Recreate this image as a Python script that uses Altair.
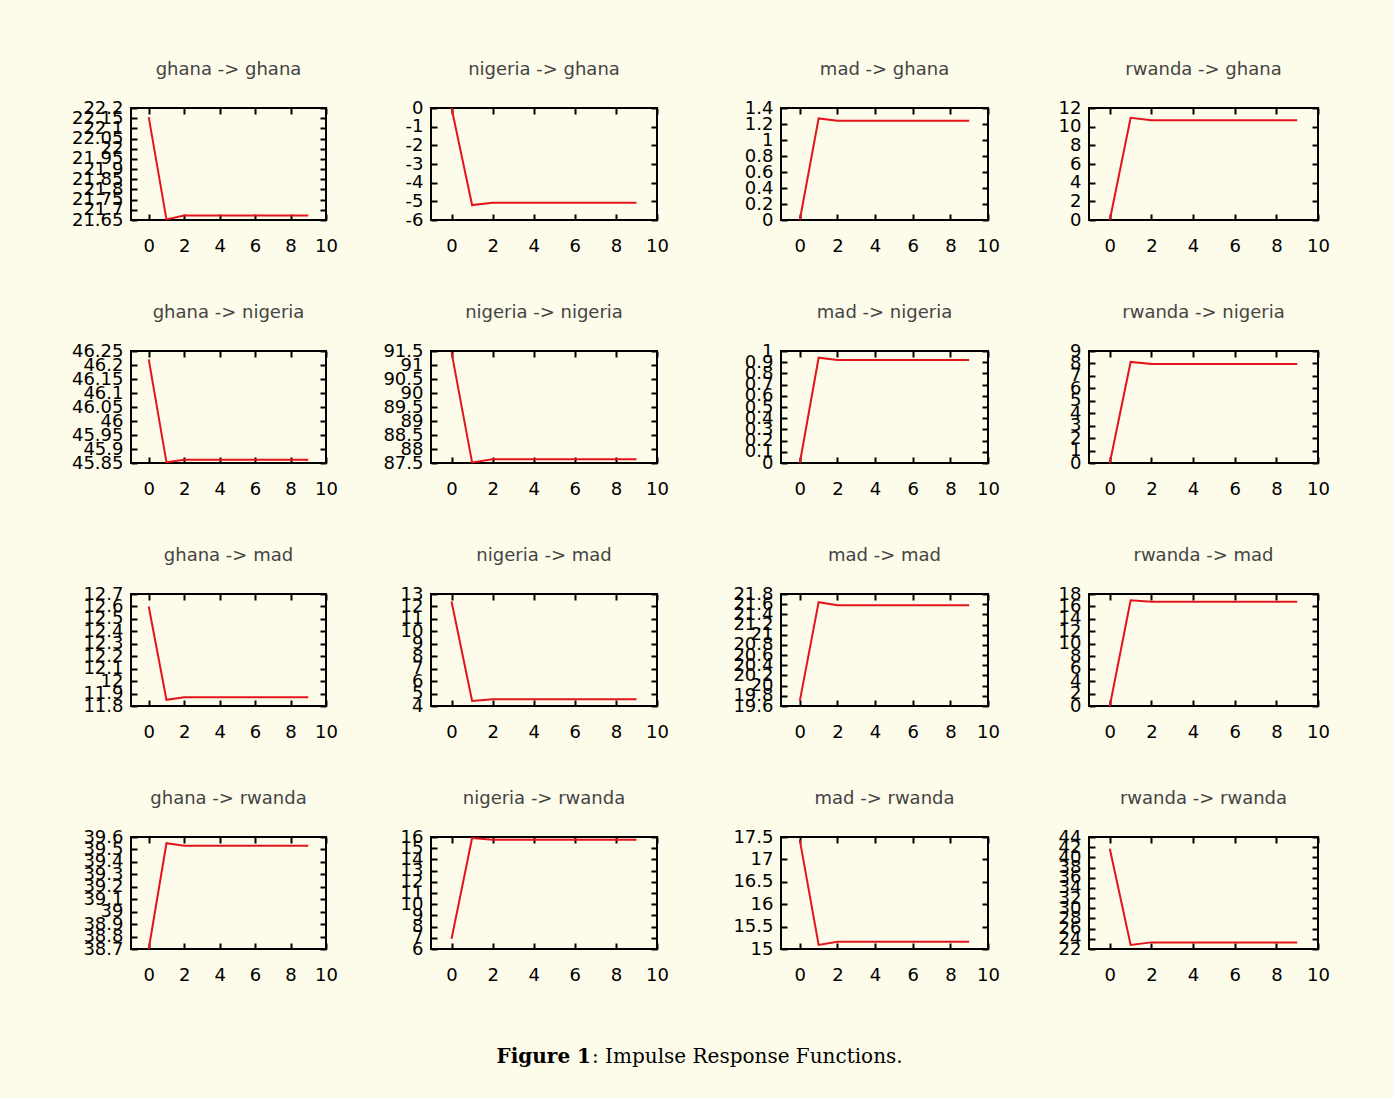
import altair as alt
import pandas as pd

# ---------------- data ----------------
periods = [0, 1, 2, 3, 4, 5, 6, 7, 8, 9]
shocks = ["ghana", "nigeria", "mad", "rwanda"]
responses = ["ghana", "nigeria", "mad", "rwanda"]

# response of ghana
ghana_to_ghana = [22.155, 21.653, 21.672, 21.672, 21.672, 21.672, 21.672, 21.672, 21.672, 21.672]
nigeria_to_ghana = [0.0, -5.2, -5.08, -5.08, -5.08, -5.08, -5.08, -5.08, -5.08, -5.08]
mad_to_ghana = [0.0, 1.27, 1.24, 1.24, 1.24, 1.24, 1.24, 1.24, 1.24, 1.24]
rwanda_to_ghana = [0.0, 10.95, 10.7, 10.7, 10.7, 10.7, 10.7, 10.7, 10.7, 10.7]
# response of nigeria
ghana_to_nigeria = [46.22, 45.853, 45.862, 45.862, 45.862, 45.862, 45.862, 45.862, 45.862, 45.862]
nigeria_to_nigeria = [91.45, 87.52, 87.63, 87.63, 87.63, 87.63, 87.63, 87.63, 87.63, 87.63]
mad_to_nigeria = [0.0, 0.94, 0.92, 0.92, 0.92, 0.92, 0.92, 0.92, 0.92, 0.92]
rwanda_to_nigeria = [0.0, 8.12, 7.95, 7.95, 7.95, 7.95, 7.95, 7.95, 7.95, 7.95]
# response of mad
ghana_to_mad = [12.6, 11.85, 11.87, 11.87, 11.87, 11.87, 11.87, 11.87, 11.87, 11.87]
nigeria_to_mad = [12.4, 4.4, 4.55, 4.55, 4.55, 4.55, 4.55, 4.55, 4.55, 4.55]
mad_to_mad = [19.7, 21.64, 21.58, 21.58, 21.58, 21.58, 21.58, 21.58, 21.58, 21.58]
rwanda_to_mad = [0.0, 17.0, 16.75, 16.75, 16.75, 16.75, 16.75, 16.75, 16.75, 16.75]
# response of rwanda
ghana_to_rwanda = [38.7, 39.55, 39.53, 39.53, 39.53, 39.53, 39.53, 39.53, 39.53, 39.53]
nigeria_to_rwanda = [6.9, 15.9, 15.75, 15.75, 15.75, 15.75, 15.75, 15.75, 15.75, 15.75]
mad_to_rwanda = [17.43, 15.09, 15.16, 15.16, 15.16, 15.16, 15.16, 15.16, 15.16, 15.16]
rwanda_to_rwanda = [41.7, 22.8, 23.3, 23.3, 23.3, 23.3, 23.3, 23.3, 23.3, 23.3]

# tick labels
x_ticks = [0, 2, 4, 6, 8, 10]
yt_ghana_ghana = [21.65, 21.7, 21.75, 21.8, 21.85, 21.9, 21.95, 22, 22.05, 22.1, 22.15, 22.2]
yt_nigeria_ghana = [-6, -5, -4, -3, -2, -1, 0]
yt_mad_ghana = [0, 0.2, 0.4, 0.6, 0.8, 1, 1.2, 1.4]
yt_rwanda_ghana = [0, 2, 4, 6, 8, 10, 12]
yt_ghana_nigeria = [45.85, 45.9, 45.95, 46, 46.05, 46.1, 46.15, 46.2, 46.25]
yt_nigeria_nigeria = [87.5, 88, 88.5, 89, 89.5, 90, 90.5, 91, 91.5]
yt_mad_nigeria = [0, 0.1, 0.2, 0.3, 0.4, 0.5, 0.6, 0.7, 0.8, 0.9, 1]
yt_rwanda_nigeria = [0, 1, 2, 3, 4, 5, 6, 7, 8, 9]
yt_ghana_mad = [11.8, 11.9, 12, 12.1, 12.2, 12.3, 12.4, 12.5, 12.6, 12.7]
yt_nigeria_mad = [4, 5, 6, 7, 8, 9, 10, 11, 12, 13]
yt_mad_mad = [19.6, 19.8, 20, 20.2, 20.4, 20.6, 20.8, 21, 21.2, 21.4, 21.6, 21.8]
yt_rwanda_mad = [0, 2, 4, 6, 8, 10, 12, 14, 16, 18]
yt_ghana_rwanda = [38.7, 38.8, 38.9, 39, 39.1, 39.2, 39.3, 39.4, 39.5, 39.6]
yt_nigeria_rwanda = [6, 7, 8, 9, 10, 11, 12, 13, 14, 15, 16]
yt_mad_rwanda = [15, 15.5, 16, 16.5, 17, 17.5]
yt_rwanda_rwanda = [22, 24, 26, 28, 30, 32, 34, 36, 38, 40, 42, 44]

caption_bold = ["Figure 1"]
caption_rest = [":   Impulse Response Functions."]

series = {
    ("ghana", "ghana"): (ghana_to_ghana, yt_ghana_ghana),
    ("nigeria", "ghana"): (nigeria_to_ghana, yt_nigeria_ghana),
    ("mad", "ghana"): (mad_to_ghana, yt_mad_ghana),
    ("rwanda", "ghana"): (rwanda_to_ghana, yt_rwanda_ghana),
    ("ghana", "nigeria"): (ghana_to_nigeria, yt_ghana_nigeria),
    ("nigeria", "nigeria"): (nigeria_to_nigeria, yt_nigeria_nigeria),
    ("mad", "nigeria"): (mad_to_nigeria, yt_mad_nigeria),
    ("rwanda", "nigeria"): (rwanda_to_nigeria, yt_rwanda_nigeria),
    ("ghana", "mad"): (ghana_to_mad, yt_ghana_mad),
    ("nigeria", "mad"): (nigeria_to_mad, yt_nigeria_mad),
    ("mad", "mad"): (mad_to_mad, yt_mad_mad),
    ("rwanda", "mad"): (rwanda_to_mad, yt_rwanda_mad),
    ("ghana", "rwanda"): (ghana_to_rwanda, yt_ghana_rwanda),
    ("nigeria", "rwanda"): (nigeria_to_rwanda, yt_nigeria_rwanda),
    ("mad", "rwanda"): (mad_to_rwanda, yt_mad_rwanda),
    ("rwanda", "rwanda"): (rwanda_to_rwanda, yt_rwanda_rwanda),
}

# ---------------- layout / style ----------------
RED = "#e3141b"
FONT = "DejaVu Sans"
BG = "#fdfbe9"
H = 112
col_widths = [195, 226, 207, 229]
gap_widths = [105, 124, 101]


def panel(shock, resp, width, with_caption=False):
    values, yticks = series[(shock, resp)]
    df = pd.DataFrame({"period": periods, "value": values})
    xs = alt.Scale(domain=[-1, 10], nice=False, zero=False)
    ys = alt.Scale(domain=[min(yticks), max(yticks)], nice=False, zero=False)
    base = alt.Chart(df)
    line = base.mark_line(color=RED, strokeWidth=2).encode(
        x=alt.X("period:Q", scale=xs, axis=alt.Axis(
            orient="bottom", values=x_ticks, ticks=False, domain=False, grid=False,
            labelPadding=17, labelFlush=False, title=None)),
        y=alt.Y("value:Q", scale=ys, axis=alt.Axis(
            orient="left", values=yticks, ticks=False, domain=False, grid=False,
            labelPadding=8, labelFlush=False, labelOverlap=False,
            labelExpr="'' + datum.value", title=None)),
    )
    ticks_a = base.mark_line(opacity=0).encode(
        x=alt.X("period:Q", scale=xs, axis=alt.Axis(
            orient="top", offset=-H, values=x_ticks, labels=False, domain=False,
            grid=False, tickSize=6, title=None)),
        y=alt.Y("value:Q", scale=ys, axis=alt.Axis(
            orient="right", offset=-width, values=yticks, labels=False, domain=False,
            grid=False, tickSize=6, title=None)),
    )
    ticks_b = base.mark_line(opacity=0).encode(
        x=alt.X("period:Q", scale=xs, axis=alt.Axis(
            orient="bottom", offset=-H, values=x_ticks, labels=False, domain=False,
            grid=False, tickSize=6, title=None)),
        y=alt.Y("value:Q", scale=ys, axis=alt.Axis(
            orient="left", offset=-width, values=yticks, labels=False, domain=False,
            grid=False, tickSize=6, title=None)),
    )
    layers = [line, ticks_a, ticks_b]
    if with_caption:
        cap_b = alt.Chart(pd.DataFrame({"t": caption_bold})).mark_text(
            font="DejaVu Serif", fontSize=20, fontWeight="bold",
            align="right", baseline="alphabetic", color="black").encode(
            text="t:N", x=alt.value(460), y=alt.value(226))
        cap_r = alt.Chart(pd.DataFrame({"t": caption_rest})).mark_text(
            font="DejaVu Serif", fontSize=20, fontWeight="normal",
            align="left", baseline="alphabetic", color="black").encode(
            text="t:N", x=alt.value(461), y=alt.value(226))
        layers += [cap_b, cap_r]
    return alt.layer(*layers).resolve_axis(
        x="independent", y="independent"
    ).properties(
        width=width, height=H,
        title=alt.TitleParams(text=f"{shock} -> {resp}", font=FONT, fontSize=18,
                              fontWeight="normal", color="#444", offset=20, anchor="middle"),
    )


def spacer(w):
    return alt.Chart(pd.DataFrame({"s": [0]})).mark_point(opacity=0, size=1).encode(
        x=alt.value(0), y=alt.value(0)
    ).properties(width=w, height=H, view=alt.ViewBackground(stroke="transparent"))


items = []
for r, resp in enumerate(responses):
    for c, shock in enumerate(shocks):
        items.append(panel(shock, resp, col_widths[c], with_caption=(r == 3 and c == 0)))
        if c < 3:
            items.append(spacer(gap_widths[c]))

chart = alt.concat(
    *items, columns=7, spacing={"row": 131, "column": 0}, align="each", bounds="flush"
).properties(
    background=BG,
    padding={"left": 70, "top": 60, "right": 62, "bottom": 30},
).configure_view(
    stroke="black", strokeWidth=2
).configure_axis(
    labelFont=FONT, labelFontSize=18, labelColor="black", tickColor="black", tickWidth=2
)

chart.save("out.html", embed_options={"renderer": "svg", "actions": False})
